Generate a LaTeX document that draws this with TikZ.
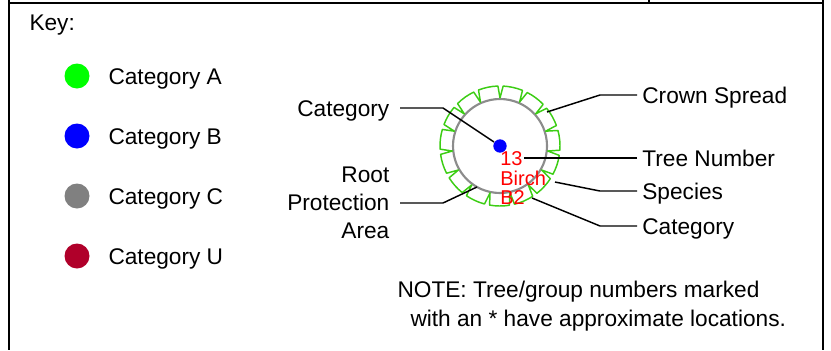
\documentclass[tikz,border=0pt]{standalone}
\usepackage{fontspec}
\setmainfont{Liberation Sans}
\definecolor{catA}{RGB}{0,255,0}
\definecolor{catB}{RGB}{0,0,255}
\definecolor{catC}{RGB}{128,128,128}
\definecolor{catU}{RGB}{176,0,42}
\definecolor{crowngreen}{RGB}{60,205,20}
\definecolor{rpagray}{RGB}{140,140,140}

\tikzset{every picture/.style={line width=0.75pt}}

\begin{document}
\begin{tikzpicture}[x=0.75pt,y=0.75pt,yscale=-1,xscale=1,
    txt/.style={inner sep=0pt,text height=12.2pt,text depth=0pt,font=\fontsize{17}{21}\selectfont},
    lbl/.style={txt,outer sep=4pt},
    lblleft/.style={txt,outer sep=8pt},
    redtxt/.style={inner sep=0pt,outer sep=1pt,text height=10.7pt,text depth=0pt,text=red,font=\fontsize{15}{17}\selectfont},
    keydot/.style={circle,inner sep=0pt,minimum size=18.75pt},
    lead/.style={line width=1.1pt},
    frame/.style={line width=1.5pt}]
        \useasboundingbox (0,0) rectangle (831,350);

        %Straight Lines (frame)
        \draw [frame]  (8,2.5) -- (823,2.5) ;
        \draw [frame]  (9,0) -- (9,350) ;
        \draw [frame]  (822.5,0) -- (822.5,350) ;
        \draw [line width=1.1pt]  (649,0) -- (649,2.5) ;

        % Text Node
        \node [txt, anchor=west] (key) at (29,22) {Key:};

        % Key dots and texts
        \foreach \c/\t [count=\i] in {catA/A,catB/B,catC/C,catU/U} {
            \node [keydot, fill=\c] (dot\t) at (77,{16+60*\i}) {};
            \node [txt, anchor=west] (key\t) at (108,{16+60*\i}) {Category \t};
        }

        %Circle (root protection area)
        \draw [color=rpagray, line width=1.6pt]  (500,146) circle [radius=47] ;
        %Crown spread
        \begin{scope}[shift={(500,146)}]
            \draw [color=crowngreen, line width=1.1pt, line join=round]  (-90:48)
                \foreach \i in {0,...,14} {
                    -- ({\i*24-90+3}:60) arc [start angle={\i*24-90+3}, end angle={(\i+1)*24-90-2}, radius=60]
                    -- ({(\i+1)*24-90}:48)
                } ;
        \end{scope}

        %Tree centre
        \node [circle, fill=catB, inner sep=0pt, minimum size=10pt] (tree) at (500,146) {};

        % Text Node
        \node [redtxt, anchor=west] (num) at (499,158) {13};
        \node [redtxt, anchor=west] (species) at (499,178) {Birch};
        \node [redtxt, anchor=west] (catcode) at (499,197) {B2};

        % Text Node
        \node [lblleft, anchor=east] (lblcat) at (400,108) {Category};
        \node [inner sep=0pt, outer sep=8pt, font=\fontsize{17}{21}\selectfont, anchor=east, align=right] (lblrpa) at (400,203) {Root\\Protection\\Area};
        \node [lbl, anchor=west] (lblspread) at (637,95) {Crown Spread};
        \node [lbl, anchor=west] (lblnum) at (637,158) {Tree Number};
        \node [lbl, anchor=west] (lblspecies) at (637,191) {Species};
        \node [lbl, anchor=west] (lblcatcode) at (637,226) {Category};

        %Points on the symbol
        \coordinate (rpapt) at (477,187);
        \coordinate (crownpt) at (547,112);
        \coordinate (speciespt) at (555,182);
        \coordinate (catcodept) at (532,198);

        %Straight Lines
        \draw [lead]  (lblcat.east) -- ++(43,0) -- (tree) ;
        \draw [lead]  (lblrpa.east) -- ++(43,0) -- (rpapt) ;
        \draw [lead]  (lblspread.west) -- ++(-37,0) -- (crownpt) ;
        \draw [lead]  (lblnum.west) -- (num.east |- lblnum.west) ;
        \draw [lead]  (lblspecies.west) -- ++(-37,0) -- (speciespt) ;
        \draw [lead]  (lblcatcode.west) -- ++(-37,0) -- (catcodept) ;

        % Text Node
        \node [txt, anchor=west] (note1) at (397,289) {NOTE: Tree/group numbers marked};
        \node [txt, anchor=west] (note2) at (410,318) {with an * have approximate locations.};

\end{tikzpicture}
\end{document}
